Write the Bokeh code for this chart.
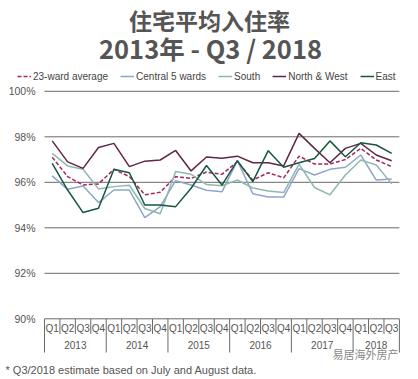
from bokeh.plotting import figure
from bokeh.models import Legend, LegendItem, Range1d
from bokeh.embed import file_html
from bokeh.resources import INLINE
from bokeh.core.properties import value

# ---------------- data ----------------
title_line1 = "住宅平均入住率"
title_line2 = "2013年 - Q3 / 2018"
years = ["2013", "2014", "2015", "2016", "2017", "2018"]
quarters_in_year = [4, 4, 4, 4, 4, 3]
quarter_names = ["Q1", "Q2", "Q3", "Q4"]
y_ticks = [90, 92, 94, 96, 98, 100]

series_names = ["23-ward average", "Central 5 wards", "South", "North & West", "East"]
ward_avg = [97.10, 96.25, 95.88, 95.93, 96.57, 96.25, 95.45, 95.56, 96.25, 96.17, 96.45, 96.35,
            96.90, 96.10, 96.42, 96.20, 97.15, 96.80, 96.80, 97.00, 97.49, 96.98, 96.69]
central5 = [96.28, 95.69, 95.84, 95.11, 95.66, 95.66, 94.45, 94.93, 96.07, 95.88, 95.65, 95.58,
            96.95, 95.50, 95.35, 95.35, 96.60, 96.32, 96.57, 96.66, 97.20, 96.10, 96.15]
south = [97.27, 96.72, 96.57, 95.71, 95.81, 95.87, 94.85, 94.62, 96.47, 96.35, 95.90, 95.85,
         96.10, 95.75, 95.62, 95.55, 96.80, 95.77, 95.45, 96.32, 96.98, 96.76, 95.93]
north_west = [97.82, 96.90, 96.61, 97.53, 97.71, 96.69, 96.93, 96.98, 97.40, 96.50, 97.11, 97.06,
              97.15, 96.86, 96.86, 96.72, 98.15, 97.49, 96.86, 97.49, 97.71, 97.20, 96.95]
east = [96.83, 95.66, 94.67, 94.86, 96.57, 96.42, 95.00, 95.00, 94.93, 95.74, 96.74, 95.88,
        96.95, 96.03, 97.39, 96.66, 96.86, 97.05, 97.82, 97.12, 97.74, 97.64, 97.27]
footnote = "* Q3/2018 estimate based on July and August data."
watermark = "易居海外房产"

# ---------------- layout ----------------
W, H = 418, 379
PX_X = 15.43      # px per quarter
PX_Y = 22.75      # px per percentage point
LEFT = 44.0       # px of the first box edge
Y90 = 318.3       # px of the 90% line

x0 = -LEFT / PX_X
x1 = x0 + W / PX_X
y0 = 90 - (H - Y90) / PX_Y
y1 = y0 + H / PX_Y


def fx(px):
    return x0 + px / PX_X


def fy(py):
    return y0 + (H - py) / PX_Y


quarter_labels = []
year_starts = []
pos = 0
for n in quarters_in_year:
    year_starts.append(pos)
    quarter_labels += quarter_names[:n]
    pos += n
n_q = len(quarter_labels)
xs = [i + 0.5 for i in range(n_q)]

FONT = value("Liberation Sans")
GREY = "#555555"

p = figure(width=W, height=H, x_range=Range1d(x0, x1), y_range=Range1d(y0, y1),
           output_backend="svg", toolbar_location=None,
           x_axis_location=None, y_axis_location=None, min_border=0)
p.grid.visible = False
p.outline_line_color = None
p.background_fill_color = "white"
p.border_fill_color = "white"

# titles
p.text(x=[fx(209)], y=[fy(19)], text=[title_line1], text_align="center", text_baseline="middle",
       text_font=value("Noto Sans CJK SC"), text_font_style="bold", text_font_size="23px",
       text_color="#555555")
p.text(x=[fx(210)], y=[fy(47)], text=[title_line2], text_align="center", text_baseline="middle",
       text_font=value("Noto Sans CJK SC"), text_font_style="bold", text_font_size="25.5px",
       text_color="#555555")

# horizontal grid lines
p.segment(x0=[0] * len(y_ticks), x1=[n_q] * len(y_ticks), y0=y_ticks, y1=y_ticks,
          line_color="#6a6a6a", line_width=1)
p.text(x=[fx(35)] * len(y_ticks), y=y_ticks, text=[f"{t}%" for t in y_ticks],
       text_align="right", text_baseline="middle", text_font=FONT, text_font_size="10.5px",
       text_color=GREY)

# category boxes
year_edges = year_starts + [n_q]
q_edges = [k for k in range(1, n_q) if k not in year_edges]
q_bottom = fy(333.5)
y_bottom = fy(352)
p.segment(x0=q_edges, x1=q_edges, y0=[90] * len(q_edges), y1=[q_bottom] * len(q_edges),
          line_color="#6a6a6a", line_width=1)
p.segment(x0=year_edges, x1=year_edges, y0=[90] * len(year_edges), y1=[y_bottom] * len(year_edges),
          line_color="#6a6a6a", line_width=1)
p.text(x=xs, y=[fy(327.5)] * n_q, text=quarter_labels, text_align="center", text_baseline="middle",
       text_font=FONT, text_font_size="10px", text_color=GREY)
p.text(x=[s + n / 2 for s, n in zip(year_starts, quarters_in_year)], y=[fy(344.5)] * len(years),
       text=years, text_align="center", text_baseline="middle", text_font=FONT,
       text_font_size="10px", text_color=GREY)

# series
colors = ["#a2285e", "#8fa5c9", "#8fb8b0", "#5f2647", "#16573d"]
dashes = ["4 2", "solid", "solid", "solid", "solid"]
data = [ward_avg, central5, south, north_west, east]
renderers = []
for name, vals, c, d in zip(series_names, data, colors, dashes):
    r = p.line(x=xs, y=vals, line_color=c, line_width=1.5, line_dash=d)
    renderers.append((name, r))

legend = Legend(items=[LegendItem(label=n, renderers=[r]) for n, r in renderers],
                orientation="horizontal", location=(17, 297), glyph_width=14, glyph_height=12,
                label_height=12, label_standoff=2, spacing=12, padding=0, margin=0,
                background_fill_alpha=0, border_line_color=None,
                label_text_font_size="10px", label_text_font="Liberation Sans",
                label_text_color="#444444")
p.add_layout(legend)

# footnote & watermark
p.text(x=[fx(5)], y=[fy(369)], text=[footnote], text_align="left", text_baseline="middle",
       text_font=FONT, text_font_size="11px", text_color=GREY)
p.text(x=[fx(398)], y=[fy(353)], text=[watermark], text_align="right", text_baseline="middle",
       text_font=value("Noto Sans CJK SC"), text_font_size="11px", text_color="#8a8a8a")

open("out.html", "w").write(file_html(p, INLINE))
